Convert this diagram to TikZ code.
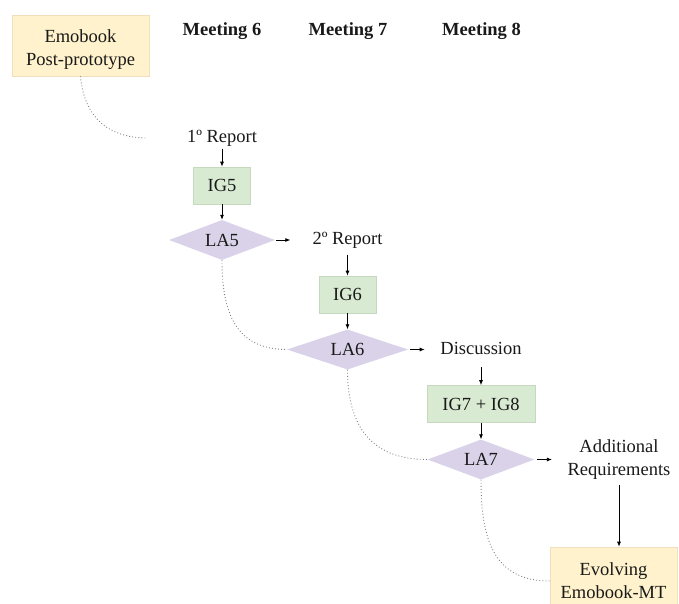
\documentclass[tikz,border=0pt]{standalone}
\usepackage{fontspec}
\setmainfont{Liberation Serif}
\usepackage{xcolor}
\usetikzlibrary{shapes.geometric, arrows.meta}
\definecolor{noteyellow}{HTML}{FFF2CC}
\definecolor{yellowline}{HTML}{EFE0BB}
\definecolor{iggreen}{HTML}{D9EAD3}
\definecolor{greenline}{HTML}{C6D9BF}
\definecolor{lapurple}{HTML}{D9D2E9}

\begin{document}
\begin{tikzpicture}[x=1pt, y=1pt, font=\fontsize{18.5}{23}\selectfont, text=black!90]

    \tikzset{txt/.style={inner sep=2pt, text height=13pt, text depth=4pt}}
    \tikzstyle{startend}=[draw=yellowline, line width=0.6pt, fill=noteyellow, align=center, inner sep=0pt]
    \tikzstyle{igbox}=[draw=greenline, line width=0.6pt, fill=iggreen, minimum width=57pt, minimum height=37pt, inner sep=0pt]
    \tikzstyle{labox}=[diamond, fill=lapurple, aspect=3, inner sep=0pt, minimum height=40pt]
    \tikzstyle{arr}=[-{Latex[length=5pt,width=4pt]}, line width=0.8pt]
    \tikzstyle{link}=[gray, line width=0.9pt, dash pattern=on 0.9pt off 2.2pt]

    \useasboundingbox (0,0) rectangle (679,-604);

    \node[startend, minimum width=137pt, minimum height=61pt] (emo) at (80.5,-45.5)
        {\smash{\raisebox{-8pt}{\begin{tabular}{@{}c@{}}Emobook\\Post-prototype\end{tabular}}}};

    \node (m6) at (222,-31.5) {\textbf{Meeting 6}};
    \node (m7) at (348,-31.5) {\textbf{Meeting 7}};
    \node (m8) at (481.5,-31.5) {\textbf{Meeting 8}};

    % meeting 6
    \node[txt] (rep1) at (222,-138) {1º Report};
    \node[igbox] (ig5) at (222,-185.5) {IG5};
    \node[labox, minimum width=106pt] (la5) at (222,-240) {LA5};

    % meeting 7
    \node[txt] (rep2) at (347.5,-240) {2º Report};
    \node[igbox] (ig6) at (347.5,-294.5) {IG6};
    \node[labox, minimum width=121pt] (la6) at (347.5,-349.5) {LA6};

    % meeting 8
    \node[txt] (disc) at (481,-349.5) {Discussion};
    \node[igbox, minimum width=108pt] (ig78) at (481,-404) {IG7 + IG8};
    \node[labox, minimum width=107pt] (la7) at (481,-459.5) {LA7};

    \node[align=center, inner sep=2pt] (addreq) at (619,-460) {Additional\\Requirements};
    \node[startend, minimum width=127pt, minimum height=68pt] (evo) at (613.5,-581) {Evolving\\Emobook-MT};

    \draw[arr] (rep1) -- (ig5);
    \draw[arr] (ig5) -- (la5);
    \draw[arr, shorten <=1pt, shorten >=20pt] (la5) -- (rep2);
    \draw[arr, shorten <=4pt] (rep2) -- (ig6);
    \draw[arr] (ig6) -- (la6);
    \draw[arr, shorten <=2pt, shorten >=13.5pt] (la6) -- (disc);
    \draw[arr, shorten <=7pt] (disc) -- (ig78);
    \draw[arr] (ig78) -- (la7);
    \draw[arr, shorten <=2.5pt, shorten >=13.5pt] (la7) -- (la7 -| addreq.west);
    \draw[arr, shorten <=3pt] (addreq) -- (addreq |- evo.north);

    \draw[link, shorten >=38pt] (emo.south) to[out=-85, in=180, looseness=1.2] (rep1.west);
    \draw[link] (la5.south) to[out=-90, in=180, looseness=1.2] (la6.west);
    \draw[link] (la6.south) to[out=-90, in=180, looseness=1.2] (la7.west);
    \draw[link] (la7.south) to[out=-90, in=180, looseness=1.2] (evo.west);

\end{tikzpicture}
\end{document}
